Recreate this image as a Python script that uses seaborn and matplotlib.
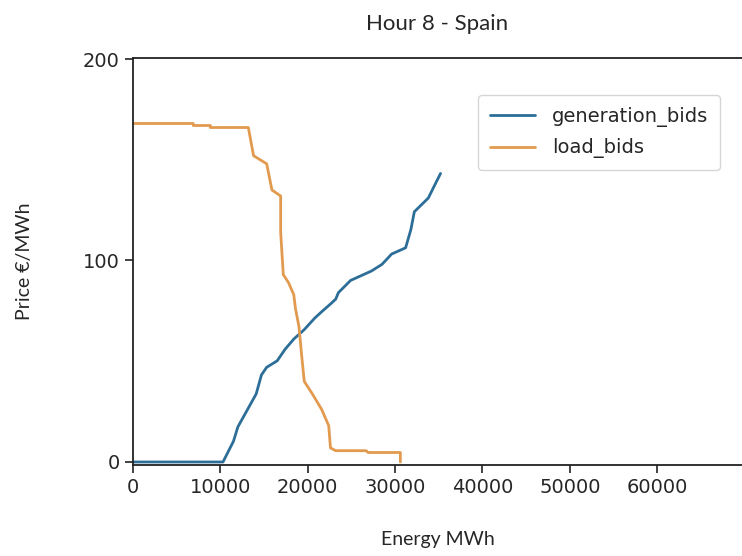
import matplotlib
matplotlib.use("Agg")
import matplotlib.pyplot as plt
import seaborn as sns
import pandas as pd

# ---- data ----
gen_energy = [0, 10300, 11500, 12000, 13500, 14100, 14700, 15300, 16500, 17400,
              18400, 19600, 20800, 21600, 22600, 23200, 23500, 24900, 27300,
              28500, 29600, 31200, 31800, 32200, 33800, 34400, 35200]
gen_price = [0, 0, 10.3, 17.4, 29.1, 33.8, 43.2, 47.0, 50.2, 55.9,
             61.0, 65.7, 71.4, 74.6, 78.4, 80.8, 84.0, 90.1, 94.8,
             98.1, 103.2, 106.3, 115.3, 124.2, 131.0, 136.3, 143.2]

load_energy = [0, 6900, 6900, 8850, 8850, 13200, 13800, 15300, 15900, 16900,
               16900, 17200, 17800, 18400, 18600, 19000, 19300, 19600, 20500,
               21600, 22400, 22600, 23200, 26700, 26900, 30600, 30600]
load_price = [168, 168, 167, 167, 166, 166, 152, 148, 135, 132,
              114, 93, 89, 83, 76, 67, 53, 40, 34,
              26, 18, 7, 5.6, 5.6, 4.7, 4.7, 0]

series_names = ["generation_bids", "load_bids"]
title = "Hour 8 - Spain"
x_label = "Energy MWh"
y_label = "Price €/MWh"
x_ticks = [0, 10000, 20000, 30000, 40000, 50000, 60000]
y_ticks = [0, 100, 200]

df = pd.concat([
    pd.DataFrame({"energy": gen_energy, "price": gen_price, "series": series_names[0]}),
    pd.DataFrame({"energy": load_energy, "price": load_price, "series": series_names[1]}),
], ignore_index=True)

sns.set_style("ticks")
plt.rcParams["font.family"] = ["DejaVu Sans"]

fig = plt.figure(figsize=(7.42, 5.56), dpi=100)
ax = fig.add_axes([133 / 742, 1 - 465 / 556, 1 - 133 / 742, (465 - 58) / 556])

palette = {series_names[0]: "#2c6e97", series_names[1]: "#e29a4f"}
sns.lineplot(data=df, x="energy", y="price", hue="series", palette=palette,
             estimator=None, sort=False, linewidth=2.0, ax=ax)

ax.set_xlim(0, 69700)
ax.set_ylim(-1.5, 200.5)
ax.set_xticks(x_ticks)
ax.set_xticklabels([str(t) for t in x_ticks], fontfamily="DejaVu Sans", fontsize=14)
ax.set_yticks(y_ticks)
ax.set_yticklabels([str(t) for t in y_ticks], fontfamily="DejaVu Sans", fontsize=14)
ax.tick_params(axis="both", length=6, width=1.2, color="#222222")

for side in ["left", "top", "bottom"]:
    ax.spines[side].set_visible(True)
    ax.spines[side].set_color("#222222")
    ax.spines[side].set_linewidth(1.3)
ax.spines["right"].set_visible(False)

ax.set_title(title, fontsize=16, family="Lato", pad=20)
ax.set_xlabel(x_label, fontsize=14, family="Lato", labelpad=24)
ax.set_ylabel(y_label, fontsize=14, family="Lato", labelpad=36)

leg = ax.legend(loc="upper right", bbox_to_anchor=(0.964, 0.909), borderaxespad=0,
                fontsize=14, frameon=True, handlelength=2.3, handletextpad=0.9,
                labelspacing=0.6, borderpad=0.6, title=None)
leg.get_frame().set_edgecolor("#cccccc")

fig.savefig("out.png", dpi=100)
